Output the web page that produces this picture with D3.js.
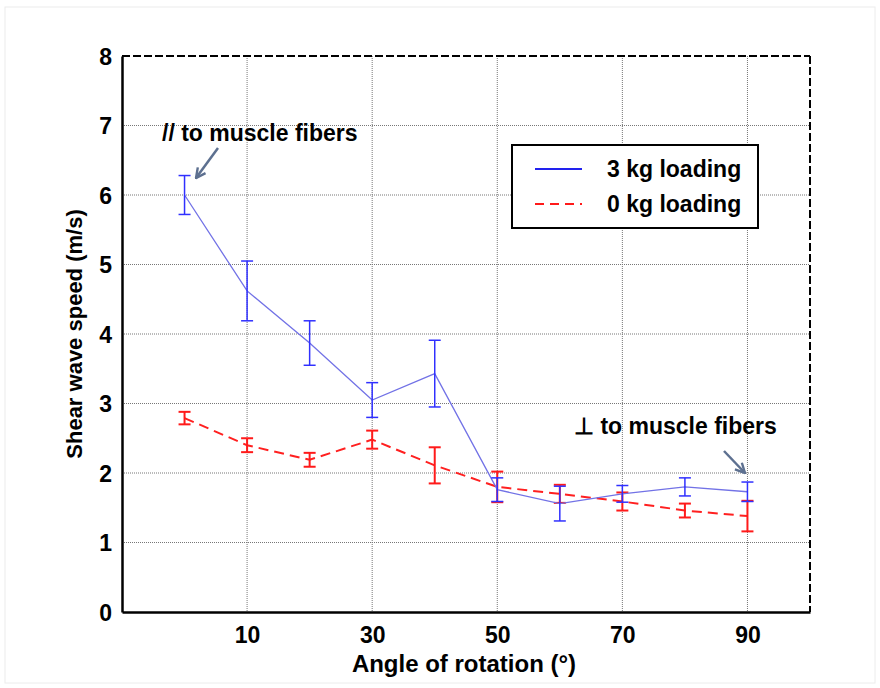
<!DOCTYPE html>
<html><head><meta charset="utf-8">
<script src="https://cdn.jsdelivr.net/npm/d3@7"></script>
<style>body{margin:0;background:#fff}svg{display:block}text{font-family:"Liberation Sans",Arial,sans-serif;font-weight:bold}</style>
</head><body><svg id="c" width="880" height="688"></svg>
<script>
const angles = [0,10,20,30,40,50,60,70,80,90];
const load3 = [6.0,4.62,3.87,3.05,3.43,1.76,1.56,1.70,1.80,1.73];
const err3  = [0.28,0.43,0.32,0.25,0.48,0.17,0.25,0.12,0.13,0.14];
const load0 = [2.79,2.40,2.19,2.48,2.11,1.80,1.70,1.59,1.46,1.38];
const err0  = [0.09,0.10,0.10,0.13,0.26,0.22,0.13,0.13,0.10,0.22];
const xTicks = [10,30,50,70,90];
const yTicks = [0,1,2,3,4,5,6,7,8];
const seriesNames = ["3 kg loading","0 kg loading"];

const svg = d3.select("#c");
const L=122,R=810,T=56,B=612;
const x = d3.scaleLinear().domain([-10,100]).range([L,R]);
const y = d3.scaleLinear().domain([0,8]).range([B,T]);

svg.append("rect").attr("x",5).attr("y",7).attr("width",870).attr("height",676).attr("fill","none").attr("stroke","#ececec");

// grid
const g = svg.append("g");
g.selectAll(".hg").data(yTicks.slice(1,-1)).join("line")
 .attr("x1",L).attr("x2",R).attr("y1",d=>y(d)).attr("y2",d=>y(d))
 .attr("stroke","#777").attr("stroke-width",1).attr("stroke-dasharray","1,1");
g.selectAll(".vg").data(xTicks).join("line")
 .attr("x1",d=>x(d)).attr("x2",d=>x(d)).attr("y1",T).attr("y2",B)
 .attr("stroke","#777").attr("stroke-width",1).attr("stroke-dasharray","1,1");

// frame
svg.append("line").attr("x1",L).attr("x2",R).attr("y1",T).attr("y2",T).attr("stroke","#000").attr("stroke-width",2).attr("stroke-dasharray","8,3");
svg.append("line").attr("x1",R).attr("x2",R).attr("y1",T).attr("y2",B).attr("stroke","#000").attr("stroke-width",2).attr("stroke-dasharray","8,3");

// axes
const ax = svg.append("g").attr("transform",`translate(0,${B})`)
 .call(d3.axisBottom(x).tickValues(xTicks).tickSize(0).tickPadding(14));
const ay = svg.append("g").attr("transform",`translate(${L},0)`)
 .call(d3.axisLeft(y).tickValues(yTicks).tickSize(0).tickPadding(10));
[ax,ay].forEach(a=>{a.select(".domain").attr("stroke","#000").attr("stroke-width",2.5);
 a.selectAll("text").attr("font-size",23).attr("fill","#000").attr("font-family",'"Liberation Sans",Arial,sans-serif').attr("font-weight","bold");});
ax.selectAll(".tick text").attr("dy","0.75em");
ay.selectAll(".tick text").attr("dy","0.35em");

const line = d3.line().x((d,i)=>x(angles[i])).y(d=>y(d));
function errs(vals, es, color, w){
 const gg = svg.append("g").attr("stroke",color).attr("stroke-width",w);
 vals.forEach((v,i)=>{
  const cx=x(angles[i]);
  gg.append("line").attr("x1",cx).attr("x2",cx).attr("y1",y(v-es[i])).attr("y2",y(v+es[i]));
  gg.append("line").attr("x1",cx-6).attr("x2",cx+6).attr("y1",y(v-es[i])).attr("y2",y(v-es[i]));
  gg.append("line").attr("x1",cx-6).attr("x2",cx+6).attr("y1",y(v+es[i])).attr("y2",y(v+es[i]));
 });
}
svg.append("path").datum(load0).attr("d",line).attr("fill","none").attr("stroke","#ff2020").attr("stroke-width",2).attr("stroke-dasharray","10,6");
errs(load0,err0,"#ff1a1a",2);
svg.append("path").datum(load3).attr("d",line).attr("fill","none").attr("stroke","#7272e6").attr("stroke-width",1.3);
errs(load3,err3,"#3030ff",1.5);

// legend
svg.append("rect").attr("x",512).attr("y",145).attr("width",246).attr("height",83).attr("fill","#fff").attr("stroke","#000").attr("stroke-width",2);
svg.append("line").attr("x1",535).attr("x2",582).attr("y1",169).attr("y2",169).attr("stroke","#2222ee").attr("stroke-width",2);
svg.append("line").attr("x1",535).attr("x2",582).attr("y1",204).attr("y2",204).attr("stroke","#ff1a1a").attr("stroke-width",2).attr("stroke-dasharray","9,6");
svg.append("text").attr("x",607).attr("y",177).attr("font-size",23).text(seriesNames[0]);
svg.append("text").attr("x",607).attr("y",212).attr("font-size",23).text(seriesNames[1]);

// annotations
svg.append("defs").append("marker").attr("id","ah").attr("viewBox","0 0 10 10").attr("refX",9).attr("refY",5)
 .attr("markerWidth",12).attr("markerHeight",12).attr("orient","auto").attr("markerUnits","userSpaceOnUse")
 .append("path").attr("d","M1,1 L9,5 L1,9").attr("fill","none").attr("stroke","#5d7090").attr("stroke-width",2);
svg.append("text").attr("x",162).attr("y",141).attr("font-size",23).text("// to muscle fibers");
svg.append("line").attr("x1",218).attr("y1",148).attr("x2",196).attr("y2",178).attr("stroke","#5d7090").attr("stroke-width",2.5).attr("marker-end","url(#ah)");
svg.append("text").attr("x",574).attr("y",434).attr("font-size",23).text("\u22A5 to muscle fibers");
svg.append("line").attr("x1",724).attr("y1",451).attr("x2",745).attr("y2",473).attr("stroke","#5d7090").attr("stroke-width",2.5).attr("marker-end","url(#ah)");

// axis labels
svg.append("text").attr("x",464).attr("y",672).attr("text-anchor","middle").attr("font-size",24).text("Angle of rotation (\u00B0)");
svg.append("text").attr("transform","translate(82,334) rotate(-90)").attr("text-anchor","middle").attr("font-size",22).text("Shear wave speed (m/s)");
</script></body></html>
